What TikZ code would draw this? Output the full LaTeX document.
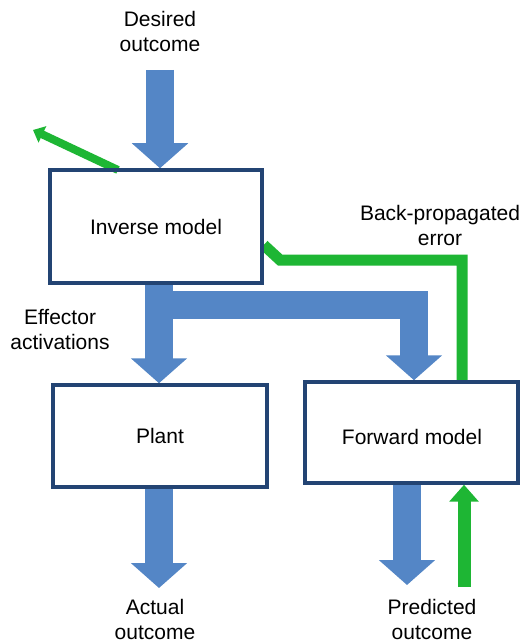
\documentclass[tikz,border=0pt]{standalone}
\usepackage{fontspec}
\setmainfont{Liberation Sans}
\usetikzlibrary{arrows.meta,calc}
\definecolor{arrowblue}{RGB}{84,134,198}
\definecolor{boxblue}{RGB}{35,68,115}
\definecolor{fbgreen}{RGB}{30,182,52}
\begin{document}
\begin{tikzpicture}[x=1pt,y=-1pt,
  every node/.style={font=\fontsize{21}{25}\selectfont, align=center, inner sep=0pt},
  box/.style={draw=boxblue, line width=3.5pt, fill=white, minimum width=#1, inner sep=0pt},
  bigarrow/.style={draw=arrowblue, line width=28pt, line cap=butt, -{Triangle[width=55pt,length=25pt]}},
  bluebar/.style={draw=arrowblue, line width=28pt, line cap=butt, line join=miter},
  greenline/.style={draw=fbgreen, line width=11pt, line cap=butt, line join=miter},
  greenarrow/.style={draw=fbgreen, line width=#1, line cap=butt, -{Triangle[width=2.2*#1,length=1.3*#1]}}
]
\useasboundingbox (0,0) rectangle (522,644);
\fill[white] (0,0) rectangle (522,644);

% boxes
\node[box=212pt, minimum height=113pt] (inv) at (156,226.5) {Inverse model};
\node[box=214pt, minimum height=102pt] (plant) at (160,436) {Plant};
\node[box=213pt, minimum height=101pt] (fwd) at (411.5,432.5) {};
\node (fwdtext) at (412,437) {Forward model};

% labels
\node (desired) at (160,31) {Desired\\outcome};
\node (bperr) at (440,225) {Back-propagated\\error};
\node (effector) at (60,330) {Effector\\activations};
\node (actual) at (155,619) {Actual\\outcome};
\node (predicted) at (432,619) {Predicted\\outcome};

% coordinates
\coordinate (dtop) at (160,70);
\coordinate (gtip) at (33,130);
\coordinate (gstart) at (118,170);
\coordinate (bend1) at (280,260);
\coordinate (bend2) at (462,260);
\coordinate (barL) at (159,305);
\coordinate (barR) at (414,305);
\coordinate (barD) at (414,345);
\coordinate (abot) at (159,588);
\coordinate (pbot) at (407,585);
\coordinate (gbot) at (464,587);

% green back-propagated error line
\draw[greenline] (inv.east |- 0,245) -- (bend1) -- (bend2) -- (bend2 |- fwd.north);
% green arrow up-left
\draw[greenarrow=8pt] (gstart) -- (gtip);
% green arrow up to forward model
\draw[greenarrow=13pt] (gbot) -- (gbot |- fwd.south);

% blue arrows
\draw[bigarrow] (dtop) -- (dtop |- inv.north);
\draw[bluebar] (barL) -- (barR) -- (barD);
\draw[bigarrow] (barR |- 0,330) -- (barR |- fwd.north);
\draw[bigarrow] (inv.south -| barL) -- (barL |- plant.north);
\draw[bigarrow] (plant.south -| abot) -- (abot);
\draw[bigarrow] (fwd.south -| pbot) -- (pbot);

% redraw box borders on top
\node[box=212pt, minimum height=113pt, fill=none] at (inv) {};
\node[box=214pt, minimum height=102pt, fill=none] at (plant) {};
\node[box=213pt, minimum height=101pt, fill=none] at (fwd) {};
\end{tikzpicture}
\end{document}
